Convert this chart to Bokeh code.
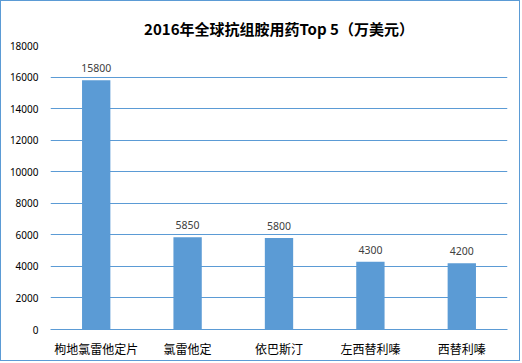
from bokeh.plotting import figure
from bokeh.models import ColumnDataSource, LabelSet, FixedTicker
from bokeh.core.properties import value
from bokeh.embed import file_html
from bokeh.resources import INLINE

categories = ["枸地氯雷他定片", "氯雷他定", "依巴斯汀", "左西替利嗪", "西替利嗪"]
values = [15800, 5850, 5800, 4300, 4200]
value_labels = ["15800", "5850", "5800", "4300", "4200"]
y_ticks = [0, 2000, 4000, 6000, 8000, 10000, 12000, 14000, 16000, 18000]
title_text = "2016年全球抗组胺用药Top 5（万美元）"

BLUE = "#5B9BD5"
CJK = "Noto Sans CJK SC"

source = ColumnDataSource(dict(cat=categories, val=values, lab=value_labels))

p = figure(
    x_range=categories, y_range=(0, 18000),
    width=520, height=361,
    output_backend="svg", toolbar_location=None,
    min_border_left=49, min_border_right=14, min_border_top=44, min_border_bottom=33,
)
p.styles = {"border": "1px solid " + BLUE}

p.title.text = title_text
p.title.align = "center"
p.title.text_font = CJK
p.title.text_font_style = "bold"
p.title.text_font_size = "15px"
p.title.text_color = "#000000"
p.title.standoff = 14

p.vbar(x="cat", top="val", width=0.31, source=source, fill_color=BLUE, line_color=None)

labels = LabelSet(x="cat", y="val", text="lab", source=source, text_align="center",
                  text_baseline="bottom", y_offset=8, text_font_size=value("10.5px"),
                  text_font=value("Noto Sans"), text_color="#404040")
p.add_layout(labels)

p.outline_line_color = None
p.background_fill_color = "white"
p.border_fill_color = "white"

p.xgrid.grid_line_color = None
p.ygrid.grid_line_color = BLUE
p.ygrid.grid_line_width = 1
p.yaxis.ticker = FixedTicker(ticks=y_ticks)

p.yaxis.axis_line_color = None
p.yaxis.major_tick_line_color = None
p.yaxis.minor_tick_line_color = None
p.yaxis.major_tick_out = 0
p.yaxis.major_label_standoff = 12
p.yaxis.major_label_text_font = "Noto Sans"
p.yaxis.major_label_text_font_size = "10px"
p.yaxis.major_label_text_color = "#000000"

p.xaxis.axis_line_color = BLUE
p.xaxis.major_tick_line_color = None
p.xaxis.minor_tick_line_color = None
p.xaxis.major_tick_out = 0
p.xaxis.major_label_standoff = 10
p.xaxis.major_label_text_font = CJK
p.xaxis.major_label_text_font_size = "12px"
p.xaxis.major_label_text_color = "#000000"

open("out.html", "w").write(file_html(p, INLINE))
